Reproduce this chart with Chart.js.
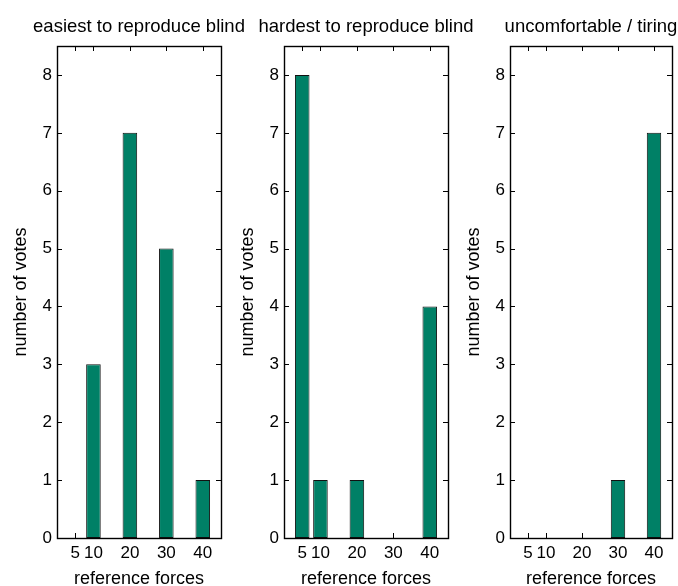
<!DOCTYPE html>
<html>
<head>
<meta charset="utf-8">
<script src="https://cdn.jsdelivr.net/npm/chart.js@4.4.0/dist/chart.umd.min.js"></script>
<style>
  html, body { margin: 0; padding: 0; background: #ffffff; }
  #fig { position: relative; width: 678px; height: 586px; overflow: hidden; background: #ffffff; }
  #fig canvas { position: absolute; top: 0; }
</style>
</head>
<body>
<div id="fig"></div>
<script>
// Vote counts per reference force, one array per question
const forces = [5, 10, 20, 30, 40];
const xTickValues = [5, 10, 20, 30, 40];
const yTickValues = [0, 1, 2, 3, 4, 5, 6, 7, 8];
const easiestVotes = [0, 3, 7, 5, 1];
const hardestVotes = [8, 1, 1, 0, 4];
const tiringVotes = [0, 0, 0, 1, 7];
const panelTitles = ['easiest to reproduce blind', 'hardest to reproduce blind', 'uncomfortable / tiring'];
const xAxisTitle = 'reference forces';
const yAxisTitle = 'number of votes';

const FONT = 'Liberation Sans, Arial, Helvetica, sans-serif';
const BAR_FILL = '#008066';
const BAR_EDGE = '#111111';

// Plot box geometry of the three subplots
const panels = [
  { votes: easiestVotes, title: panelTitles[0], left: 57, width: 164 },
  { votes: hardestVotes, title: panelTitles[1], left: 284, width: 164 },
  { votes: tiringVotes, title: panelTitles[2], left: 510, width: 162 }
];
const Y_AXIS_W = 57;
const CANVAS_H = 592;
const PLOT_BOTTOM = 538;

// Inward tick marks and a closed box around each plot area
const boxPlugin = {
  id: 'boxAxes',
  beforeDatasetsDraw(chart) {
    const { ctx, chartArea: a, scales: { x, y } } = chart;
    const len = 5;
    ctx.save();
    ctx.strokeStyle = '#000';
    ctx.lineWidth = 1;
    ctx.beginPath();
    x.ticks.forEach(t => {
      const px = Math.round(x.getPixelForValue(t.value)) + 0.5;
      ctx.moveTo(px, a.bottom); ctx.lineTo(px, a.bottom - len);
      ctx.moveTo(px, a.top); ctx.lineTo(px, a.top + len);
    });
    y.ticks.forEach(t => {
      const py = Math.round(y.getPixelForValue(t.value)) + 0.5;
      ctx.moveTo(a.left, py); ctx.lineTo(a.left + len, py);
      ctx.moveTo(a.right, py); ctx.lineTo(a.right - len, py);
    });
    ctx.stroke();
    ctx.restore();
  },
  afterDatasetsDraw(chart) {
    const { ctx, chartArea: a } = chart;
    ctx.save();
    ctx.strokeStyle = '#000';
    ctx.lineWidth = 1.4;
    ctx.strokeRect(Math.round(a.left) + 0.5, Math.round(a.top) + 0.5,
                   Math.round(a.right - a.left), Math.round(a.bottom - a.top));
    ctx.restore();
  }
};

const fig = document.getElementById('fig');

panels.forEach(p => {
  // canvas is symmetric about the plot box so the title centres over it
  const canvasLeft = p.left - Y_AXIS_W;
  const canvasW = Y_AXIS_W + p.width + Y_AXIS_W;
  const canvas = document.createElement('canvas');
  canvas.width = canvasW;
  canvas.height = CANVAS_H;
  canvas.style.left = canvasLeft + 'px';
  canvas.style.width = canvasW + 'px';
  canvas.style.height = CANVAS_H + 'px';
  fig.appendChild(canvas);

  new Chart(canvas, {
    type: 'bar',
    data: {
      datasets: [{
        data: forces.map((f, i) => ({ x: f, y: p.votes[i] })),
        backgroundColor: BAR_FILL,
        borderColor: BAR_EDGE,
        borderWidth: ctx => (ctx.raw && ctx.raw.y > 0) ? 1 : 0,
        borderSkipped: false,
        barPercentage: 0.8,
        categoryPercentage: 1,
        yAxisID: 'y'
      }]
    },
    options: {
      responsive: false,
      animation: false,
      devicePixelRatio: 1,
      layout: { padding: 0 },
      plugins: {
        legend: { display: false },
        tooltip: { enabled: false },
        title: {
          display: true,
          text: p.title,
          color: '#000',
          font: { family: FONT, size: 18.5, weight: 'normal' },
          padding: { top: 15.5, bottom: 8.3 }
        }
      },
      scales: {
        x: {
          type: 'linear',
          min: 0,
          max: 45,
          offset: false,
          grid: { display: false, drawTicks: false },
          border: { display: false },
          afterBuildTicks: s => { s.ticks = xTickValues.map(v => ({ value: v })); },
          afterFit: s => { s.height = CANVAS_H - PLOT_BOTTOM; },
          ticks: {
            color: '#000',
            padding: 5.5,
            maxRotation: 0,
            autoSkip: false,
            font: { family: FONT, size: 17 }
          },
          title: {
            display: true,
            text: xAxisTitle,
            color: '#000',
            font: { family: FONT, size: 18 },
            padding: { top: 0, bottom: 2.5 }
          }
        },
        y: {
          position: 'left',
          min: 0,
          max: 8.5,
          grid: { display: false, drawTicks: false },
          border: { display: false },
          afterBuildTicks: s => { s.ticks = yTickValues.map(v => ({ value: v })); },
          afterFit: s => { s.width = Y_AXIS_W; },
          ticks: {
            color: '#000',
            padding: 5,
            font: { family: FONT, size: 17 }
          },
          title: {
            display: true,
            text: yAxisTitle,
            color: '#000',
            font: { family: FONT, size: 18 },
            padding: { top: 10, bottom: 0 }
          }
        },
        // empty right-hand margin, same width as the left axis
        margin: {
          type: 'linear',
          position: 'right',
          grid: { display: false, drawTicks: false },
          border: { display: false },
          ticks: { display: false },
          afterFit: s => { s.width = Y_AXIS_W; }
        }
      }
    },
    plugins: [boxPlugin]
  });
});
</script>
</body>
</html>
